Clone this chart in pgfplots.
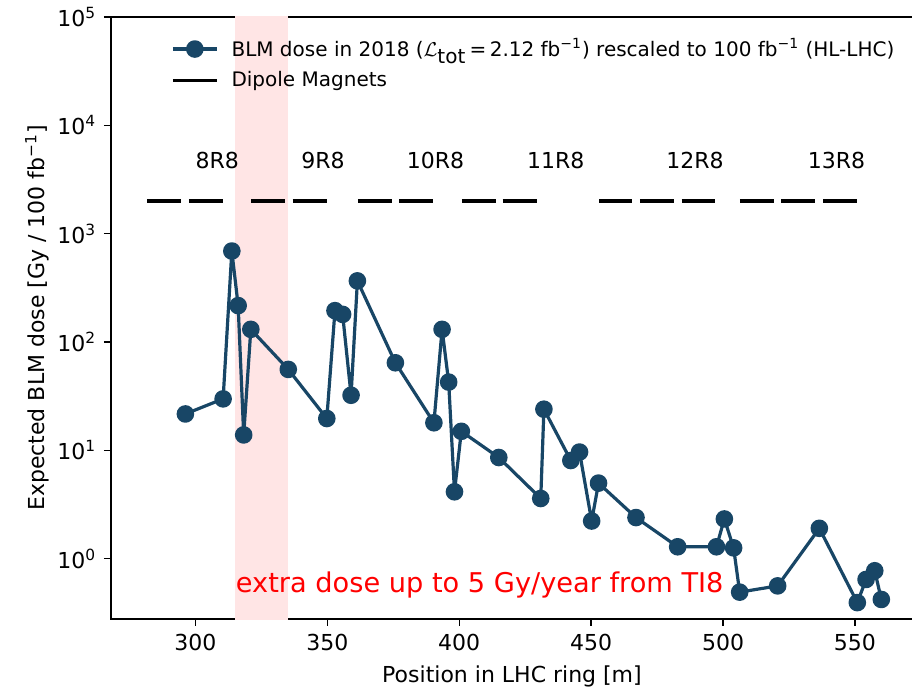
\documentclass[border=0pt]{standalone}
\usepackage{pgfplots}
\pgfplotsset{compat=1.18}
\usepackage{fontspec}
\setmainfont{DejaVu Sans}
\definecolor{blm}{RGB}{24,70,102}
\definecolor{band}{RGB}{255,229,229}
\begin{document}
\fontsize{11pt}{13pt}\selectfont
\begin{tikzpicture}
\begin{axis}[
  scale only axis,
  width=401pt, height=301pt,
  xmin=268, xmax=572,
  ymode=log, log basis y=10,
  ymin=0.278, ymax=1e5,
  xtick={300,350,...,550},
  ytick={1,10,100,1000,10000,100000},
  tick pos=left,
  tick align=outside,
  major tick length=3.5pt,
  minor tick length=2pt,
  axis line style={line width=0.8pt},
  every tick/.style={black, line width=0.7pt},
  /pgf/number format/assume math mode=true,
  tick label style={font=\fontsize{11pt}{13pt}\selectfont},
  yticklabel={10\textsuperscript{\pgfmathparse{int(round(\tick))}\pgfmathresult}},
  xlabel={Position in LHC ring [m]},
  ylabel={Expected BLM dose [Gy / 100 fb\textsuperscript{−1}]},
  label style={font=\fontsize{11pt}{13pt}\selectfont},
  xlabel style={at={(axis description cs:0.5,-0.1063)}, anchor=base},
  ylabel style={at={(axis description cs:-0.0923,0.5)}, anchor=center},
  legend cell align=left,
  legend style={at={(axis description cs:0.067,0.978)}, anchor=north west,
    draw=none, fill=none, font=\fontsize{10pt}{12pt}\selectfont,
    row sep=2pt, column sep=4.5pt},
  legend image code/.code={\draw[mark repeat=2,mark phase=2,#1] plot coordinates {(0pt,0pt) (11pt,0pt) (22pt,0pt)};},
]
\addplot[fill=band, draw=none, forget plot] coordinates {(315,0.1) (335,0.1) (335,1e6) (315,1e6)} -- cycle;

\addplot[color=blm, line width=1.6pt, line join=round, mark=*, mark size=3.6pt, mark options={fill=blm, draw=blm}] coordinates {
(296.2,21.7) (310.5,29.9) (313.8,692) (316.2,217) (318.3,13.9) (321.0,131)
(335.2,55.9) (349.8,19.7) (352.9,195) (355.8,180) (359.0,32.3) (361.4,367)
(375.8,64.4) (390.4,18.0) (393.5,131) (396.0,42.7) (398.2,4.15) (400.8,15.0)
(415.0,8.6) (430.9,3.6) (432.1,24.0) (442.3,8.07) (445.6,9.66) (450.2,2.23)
(452.8,4.99) (467.0,2.40) (482.8,1.29) (497.5,1.29) (500.5,2.33) (504.0,1.26)
(506.3,0.492) (520.7,0.562) (536.5,1.91) (550.9,0.394) (554.2,0.644) (557.5,0.775)
(560.0,0.421)
};
\addlegendentry{BLM dose in 2018 ($\mathcal{L}_{\textrm{tot}}$\,=\,2.12 fb\textsuperscript{−1}) rescaled to 100 fb\textsuperscript{−1} (HL-LHC)}

\addplot[black, line width=1.7pt, unbounded coords=jump] coordinates {
(281.8,2000) (294.7,2000) (nan,nan)
(297.5,2000) (310.5,2000) (nan,nan)
(321.2,2000) (334.1,2000) (nan,nan)
(336.8,2000) (349.8,2000) (nan,nan)
(361.6,2000) (374.7,2000) (nan,nan)
(377.3,2000) (390.2,2000) (nan,nan)
(401.0,2000) (413.9,2000) (nan,nan)
(416.4,2000) (429.3,2000) (nan,nan)
(453.0,2000) (465.6,2000) (nan,nan)
(468.5,2000) (481.3,2000) (nan,nan)
(484.3,2000) (497.1,2000) (nan,nan)
(506.4,2000) (519.3,2000) (nan,nan)
(522.1,2000) (535.0,2000) (nan,nan)
(537.9,2000) (550.8,2000)
};
\addlegendentry{Dipole Magnets}

\node[font=\fontsize{11pt}{13pt}\selectfont] at (axis cs:308.3,4740) {8R8};
\node[font=\fontsize{11pt}{13pt}\selectfont] at (axis cs:348.4,4740) {9R8};
\node[font=\fontsize{11pt}{13pt}\selectfont] at (axis cs:391.0,4740) {10R8};
\node[font=\fontsize{11pt}{13pt}\selectfont] at (axis cs:436.6,4740) {11R8};
\node[font=\fontsize{11pt}{13pt}\selectfont] at (axis cs:489.4,4740) {12R8};
\node[font=\fontsize{11pt}{13pt}\selectfont] at (axis cs:543.0,4740) {13R8};
\node[anchor=base west, inner sep=0pt, text=red, font=\fontsize{13.6pt}{16pt}\selectfont] at (axis cs:315.2,0.484) {extra dose up to 5 Gy/year from TI8};
\end{axis}
\pgfresetboundingbox
\path (-55.5pt,-34pt) rectangle (400.5pt,309.5pt);
\end{tikzpicture}
\end{document}
